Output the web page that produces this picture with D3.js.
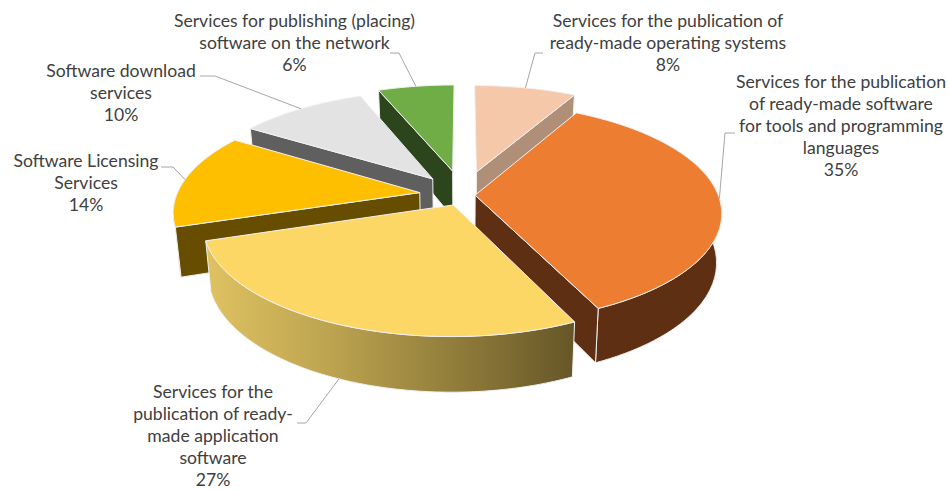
<!DOCTYPE html>
<html>
<head>
<meta charset="utf-8">
<script src="https://cdn.jsdelivr.net/npm/d3@7/dist/d3.min.js"></script>
<style>
  html, body { margin: 0; padding: 0; background: #fff; }
  svg { display: block; }
  text { font-family: Lato, "Open Sans", sans-serif; font-size: 17.6px; fill: #404040; text-anchor: middle; }
</style>
</head>
<body>
<svg id="chart" width="950" height="490"></svg>
<script>
// Market share of software publishing services, clockwise from twelve o'clock.
const categories = [
  ["Services for the publication of", "ready-made operating systems"],
  ["Services for the publication", "of ready-made software", "for tools and programming", "languages"],
  ["Services for the", "publication of ready-", "made application", "software"],
  ["Software Licensing", "Services"],
  ["Software download", "services"],
  ["Services for publishing (placing)", "software on the network"]
];
const shares = [8, 35, 27, 14, 10, 6];

// Slice styling, in series order.
const topColors  = ["#f5c8aa", "#ed7d31", "#fcd766", "#fdbf00", "#e3e3e3", "#70ad47"];
const wallColors = ["#b08f78", "#5f2f13", "#664d00", "#664d00", "#5f5f5f", "#2c451c"];
const explosion  = [0.23, 0.05, 0.10, 0.18, 0.20, 0.235];

// Paint order: far slices first, nearest slice last.
const paintOrder = [0, 5, 4, 3, 1, 2];

// Label anchors and the elbow of each leader line, in series order.
const labelCenters = [[668, 27], [841, 88], [213, 398], [86, 167], [121, 77], [294.5, 27]];
const leaderElbows = [[[543, 53], [535, 53]], [[735, 133], [725, 133]], [[297, 423], [306, 423]],
                      [[161, 167], [173, 167]], [[200, 76], [215, 76]], [[390, 53], [399, 53]]];
const leaderOnBase = [false, false, true, false, false, false];

const svg = d3.select("#chart");

// Perspective projection of the pie plane: x/y are unit-disc coordinates, z runs from lid (0) to base (1).
const xScale = d3.scaleLinear().domain([-1, 1]).range([463 - 243, 463 + 243]);
const yScale = d3.scaleLinear().domain([-1, 1]).range([195 - 107, 195 + 107]);
const tilt = 0.16;
function project(u, v, z) {
  const d = 1 - tilt * v;
  return [
    xScale((u / d) * (1 - 0.02 * z)),
    yScale(v / d) + z * (48 + 7 * v)
  ];
}

const pie = d3.pie().sort(null).value(d => d).startAngle(0).endAngle(2 * Math.PI);
const arcs = pie(shares);
const line = d3.line();

// Gradient shading across the front wall of the nearest slice.
const grad = svg.append("defs").append("linearGradient").attr("id", "frontWall")
  .attr("x1", 0).attr("x2", 1).attr("y1", 0).attr("y2", 0);
[[0, "#dfc262"], [0.35, "#bba24f"], [0.65, "#94803c"], [1, "#665628"]].forEach(([o, c]) =>
  grad.append("stop").attr("offset", o).attr("stop-color", c));

function rimAngles(a) {
  const n = Math.ceil((a.endAngle - a.startAngle) / 0.01);
  return d3.range(n + 1).map(i => a.startAngle + (a.endAngle - a.startAngle) * i / n);
}

function sliceGeometry(a, i) {
  const mid = (a.startAngle + a.endAngle) / 2;
  const ou = Math.sin(mid) * explosion[i];
  const ov = -Math.cos(mid) * explosion[i];
  const rimPoint = (t, z) => project(ou + Math.sin(t), ov - Math.cos(t), z);
  const apex = z => project(ou, ov, z);
  return { mid, rimPoint, apex };
}

const stroke = "#f1f1f1";
paintOrder.forEach(i => {
  const a = arcs[i];
  const { mid, rimPoint, apex } = sliceGeometry(a, i);
  const g = svg.append("g");
  const angles = rimAngles(a);
  const style = sel => sel.attr("stroke", stroke).attr("stroke-width", 1).attr("stroke-linejoin", "round");

  // Outer curved wall, only where the rim turns towards the viewer.
  const front = angles.filter(t => -Math.cos(t) > -0.1);
  if (front.length > 1) {
    const wall = front.map(t => rimPoint(t, 0)).concat(front.slice().reverse().map(t => rimPoint(t, 1)));
    g.append("path").attr("d", line(wall) + "Z")
      .attr("fill", i === 2 ? "url(#frontWall)" : wallColors[i])
      .call(style);
  }

  // A cut face shows when the lid lies above its edge on screen.
  const [ax, ay] = apex(0);
  const [mx, my] = rimPoint(mid, 0);
  [a.startAngle, a.endAngle].forEach(t => {
    const [rx, ry] = rimPoint(t, 0);
    if (Math.abs(rx - ax) < 20) return;
    const edgeY = ay + (ry - ay) * (mx - ax) / (rx - ax);
    if (my < edgeY) {
      g.append("path")
        .attr("d", line([apex(0), rimPoint(t, 0), rimPoint(t, 1), apex(1)]) + "Z")
        .attr("fill", wallColors[i])
        .call(style);
    }
  });

  // Lid.
  const lid = [apex(0)].concat(angles.map(t => rimPoint(t, 0)));
  g.append("path").attr("d", line(lid) + "Z")
    .attr("fill", topColors[i])
    .call(style);
});

// Leader lines run from the elbow to the middle of each slice's rim.
arcs.forEach((a, i) => {
  const { mid, rimPoint } = sliceGeometry(a, i);
  const pts = leaderElbows[i].concat([rimPoint(mid, leaderOnBase[i] ? 1 : 0)]);
  svg.append("path").attr("d", line(pts))
    .attr("fill", "none").attr("stroke", "#a6a6a6").attr("stroke-width", 1);
});

// Category and percentage labels.
categories.forEach((lines, i) => {
  const [cx, y0] = labelCenters[i];
  const t = svg.append("text");
  lines.concat([shares[i] + "%"]).forEach((s, j) => {
    t.append("tspan").attr("x", cx).attr("y", y0 + j * 22).text(s);
  });
});
</script>
</body>
</html>
